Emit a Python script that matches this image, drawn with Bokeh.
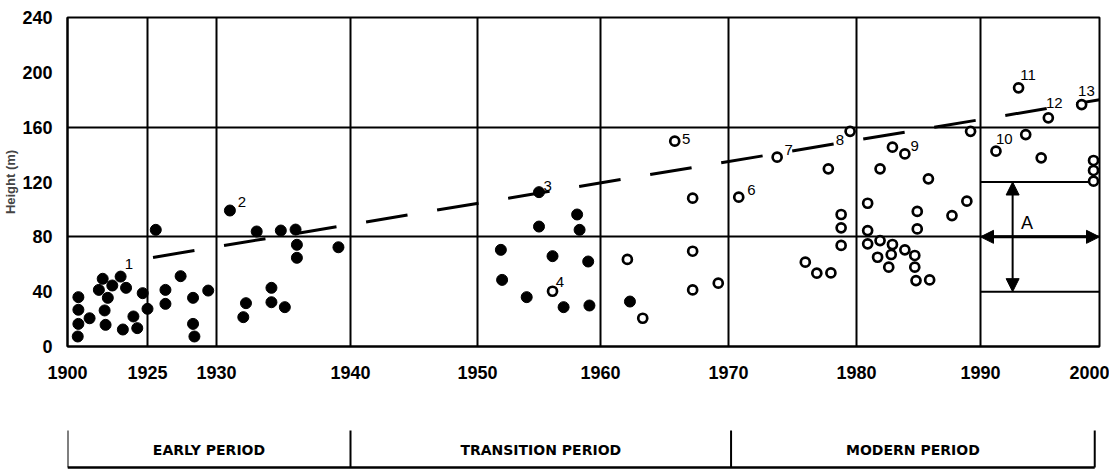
import numpy as np
from bokeh.plotting import figure
from bokeh.layouts import column
from bokeh.models import Range1d, FixedTicker, Arrow, NormalHead, Label
from bokeh.core.properties import value
from bokeh.embed import file_html
from bokeh.resources import INLINE

# ---- axis ticks (non-uniform year axis) ----
TICK_YEARS = [1900, 1925, 1930, 1940, 1950, 1960, 1970, 1980, 1990, 2000]
TICK_POS = [0, 80, 149, 283, 410, 533, 661, 789, 913, 1032]
Y_TICKS = [0, 40, 80, 120, 160, 200, 240]

# ---- filled points (early & transition) ----
filled_year = [1903.4, 1903.4, 1903.4, 1903.2, 1906.9, 1911.0, 1909.8, 1914.0, 1916.6, 1918.3,
               1912.6, 1911.6, 1911.9, 1917.3, 1920.6, 1921.8, 1923.5, 1925.0, 1925.6, 1926.3,
               1926.3, 1927.4, 1928.3, 1928.3, 1928.4, 1929.4, 1931.0, 1933.0, 1934.8, 1935.9,
               1936.0, 1936.0, 1939.1, 1934.1, 1934.1, 1935.1, 1932.2, 1932.0,
               1955.0, 1955.0, 1958.1, 1958.3, 1951.9, 1952.0, 1954.0, 1956.1, 1957.0, 1959.0,
               1959.1, 1962.3]
filled_height = [36, 26.8, 16.5, 7.3, 20.6, 49.4, 41.3, 44.5, 51, 42.8,
                 35.5, 26.3, 15.8, 12.4, 21.9, 13.4, 38.9, 27.5, 85.1, 41.3,
                 31.1, 51.3, 35.5, 16.5, 7.3, 40.8, 99.2, 83.9, 84.6, 85.3,
                 74.2, 64.7, 72.4, 42.8, 32.3, 28.7, 31.6, 21.4,
                 112.6, 87.5, 96.3, 85.1, 70.5, 48.6, 36, 65.9, 28.7, 62,
                 29.9, 32.8]

# ---- open points (transition & modern) ----
open_year = [1956.1, 1962.1, 1963.3, 1965.8, 1967.2, 1967.2, 1967.2, 1969.2, 1970.8, 1973.8,
             1979.5, 1977.8, 1978.8, 1978.8, 1978.8, 1976.0, 1976.9, 1978.0, 1989.2, 1982.9,
             1983.9, 1981.9, 1985.8, 1980.9, 1984.9, 1984.9, 1987.7, 1988.9, 1980.9, 1980.9,
             1981.9, 1982.9, 1983.9, 1984.7, 1981.7, 1982.8, 1982.6, 1984.7, 1984.8, 1985.9,
             1993.2, 1998.5, 1995.7, 1993.8, 1991.3, 1995.1, 1999.5, 1999.5, 1999.5]
open_height = [40.3, 63.5, 20.6, 149.8, 108.2, 69.5, 41.3, 46.2, 108.9, 138.1,
               157, 129.6, 96.3, 86.6, 73.7, 61.5, 53.5, 53.7, 157, 145.4,
               140.5, 129.6, 122.3, 104.5, 98.5, 85.8, 95.5, 106, 84.6, 74.9,
               77.3, 74.4, 70.5, 66.4, 65.1, 67.1, 57.9, 57.9, 48.1, 48.6,
               188.7, 176.5, 166.8, 154.6, 142.5, 137.6, 135.7, 128.4, 120.6]

# ---- numbered annotations ----
note_text = ["1", "2", "3", "4", "5", "6", "7", "8", "9", "10", "11", "12", "13"]
note_year = [1919.2, 1931.9, 1955.7, 1956.7, 1966.7, 1971.8, 1974.7, 1978.7, 1984.7,
             1992.0, 1994.0, 1996.2, 1998.9]
note_height = [60.3, 105.2, 117.4, 46.9, 151.5, 113.8, 143, 150.8, 146.6,
               151.5, 197.7, 177.5, 186.7]

# ---- trend line ----
trend_year = [1925.4, 2000]
trend_height = [65, 180]

# ---- range box in 1990s ----
box_years = [1990, 2000]
box_lines = [120, 40]
range_arrow_year = 1992.7
range_low, range_high, range_mid = 40, 120, 80
range_label = "A"
range_label_year, range_label_height = 1993.9, 90

# ---- periods ----
period_names = ["EARLY PERIOD", "TRANSITION PERIOD", "MODERN PERIOD"]
period_bounds = [1900, 1940, 1970.2, 1999.6]


def pos(years):
    return np.interp(np.asarray(years, dtype=float), TICK_YEARS, TICK_POS)


FONT = "'Liberation Sans Narrow', 'Liberation Sans', Arial"

# ---------------- main chart ----------------
p = figure(frame_width=1032, frame_height=329, output_backend="svg", toolbar_location=None,
           x_range=Range1d(0, TICK_POS[-1]), y_range=Range1d(0, 240),
           min_border_left=60, min_border_right=10, min_border_top=17, min_border_bottom=40)
p.outline_line_color = "black"
p.outline_line_width = 2
p.background_fill_color = "white"
p.border_fill_color = "white"

p.xaxis.ticker = FixedTicker(ticks=TICK_POS)
p.xaxis.major_label_overrides = {tp: str(ty) for tp, ty in zip(TICK_POS, TICK_YEARS)}
p.yaxis.ticker = FixedTicker(ticks=Y_TICKS)
for ax in (p.xaxis, p.yaxis):
    ax.major_tick_line_color = None
    ax.minor_tick_line_color = None
    ax.axis_line_color = "black"
    ax.axis_line_width = 2
    ax.major_label_text_font = FONT
    ax.major_label_text_font_style = "bold"
    ax.major_label_text_font_size = "18px"
    ax.major_label_text_color = "black"
p.xaxis.major_label_standoff = 13
p.yaxis.major_label_standoff = 9
p.yaxis.axis_label = "Height (m)"
p.yaxis.axis_label_text_font = FONT
p.yaxis.axis_label_text_font_style = "bold"
p.yaxis.axis_label_text_font_size = "13px"
p.yaxis.axis_label_standoff = 1

# grid
p.ygrid.ticker = FixedTicker(ticks=[80, 160])
p.xgrid.ticker = FixedTicker(ticks=TICK_POS[1:-1])
for g in (p.xgrid, p.ygrid):
    g.grid_line_color = "black"
    g.grid_line_alpha = 1.0
    g.grid_line_width = 2

# box lines in 1990s
bx = pos(box_years)
p.segment(x0=[bx[0]] * len(box_lines), x1=[bx[1]] * len(box_lines),
          y0=box_lines, y1=box_lines, line_color="black", line_width=2)

# trend line
p.line(pos(trend_year), trend_height, line_color="black", line_width=3, line_dash="42 30")

# points
p.scatter(pos(filled_year), filled_height, size=11, marker="circle",
          fill_color="black", line_color="black")
p.scatter(pos(open_year), open_height, size=9, marker="circle",
          fill_color="white", line_color="black", line_width=2.7)

# numbered annotations
p.text(pos(note_year), note_height, text=note_text, text_font=value(FONT),
       text_font_size="15px", text_align="center", text_baseline="middle", text_color="black")

# range arrows
ax_x = float(pos([range_arrow_year])[0])
head = dict(size=13, fill_color="black", line_color="black")
p.add_layout(Arrow(start=NormalHead(**head), end=NormalHead(**head),
                   x_start=bx[0], y_start=range_mid, x_end=bx[1], y_end=range_mid,
                   line_width=3, line_color="black"))
p.add_layout(Arrow(start=NormalHead(**head), end=NormalHead(**head),
                   x_start=ax_x, y_start=range_high, x_end=ax_x, y_end=range_low,
                   line_width=2, line_color="black"))
p.add_layout(Label(x=float(pos([range_label_year])[0]), y=range_label_height, text=range_label,
                   text_font=FONT, text_font_size="18px", text_align="center",
                   text_baseline="middle", text_color="black"))

# ---------------- period bar ----------------
p2 = figure(frame_width=1032, frame_height=83, output_backend="svg", toolbar_location=None,
            x_range=p.x_range, y_range=Range1d(0, 83),
            x_axis_type=None, y_axis_type=None,
            min_border_left=60, min_border_right=10, min_border_top=0, min_border_bottom=0)
p2.outline_line_color = None
p2.grid.visible = False
p2.background_fill_color = "white"
p2.border_fill_color = "white"

pb = pos(period_bounds)
p2.segment(x0=pb, x1=pb, y0=[2] * len(pb), y1=[39] * len(pb), line_color="black", line_width=2)
p2.segment(x0=[pb[0]], x1=[pb[-1]], y0=[2], y1=[2], line_color="black", line_width=2.5)
mids = (pb[:-1] + pb[1:]) / 2
p2.text(mids, [20] * len(mids), text=period_names, text_font=value("DejaVu Sans"),
        text_font_style="bold", text_font_size="14px", text_align="center",
        text_baseline="middle", text_color="black")

layout = column(p, p2, spacing=0)
open("out.html", "w").write(file_html(layout, INLINE))
